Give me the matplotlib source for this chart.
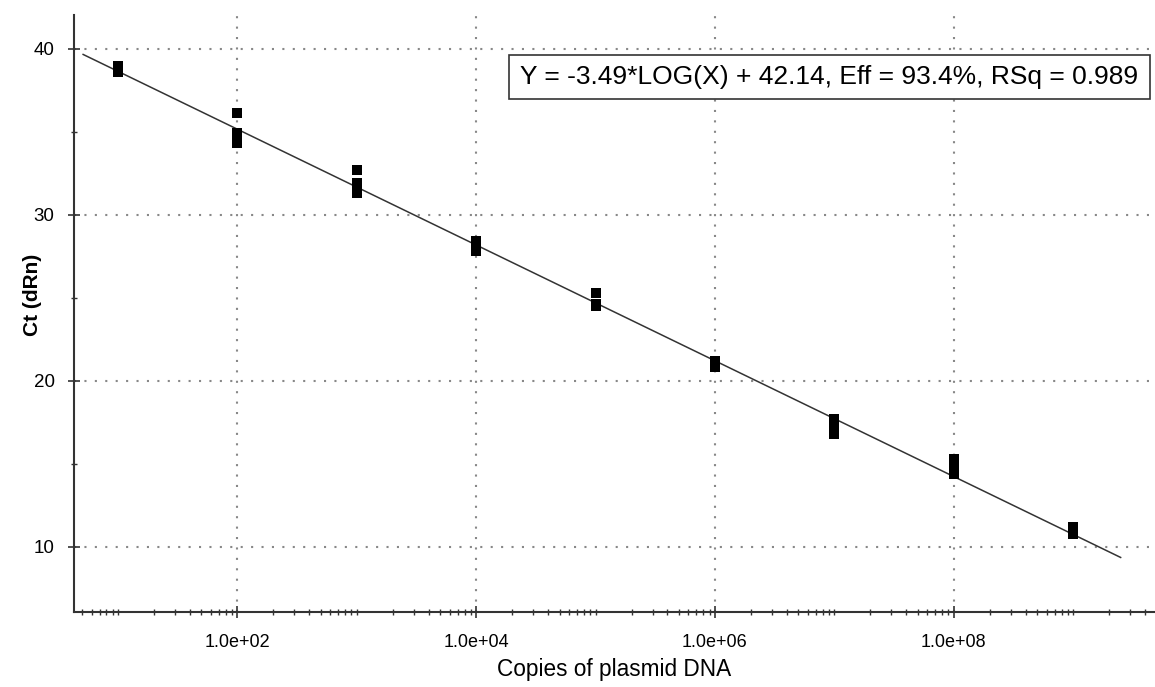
import numpy as np
import matplotlib
matplotlib.use('Agg')
import matplotlib.pyplot as plt
from matplotlib.patches import Rectangle
from matplotlib.ticker import LogLocator, FixedLocator, NullFormatter

plt.rcParams['font.family'] = ['Liberation Sans', 'DejaVu Sans']

# standard curve data
copies = [1e1, 1e2, 1e3, 1e4, 1e5, 1e6, 1e7, 1e8, 1e9]
ct_reps = [
    [39.0, 38.8, 38.6],
    [36.15, 34.95, 34.35],
    [32.7, 31.9, 31.3],
    [28.4, 28.1, 27.8],
    [25.3, 24.6, 24.5],
    [21.2, 20.9, 20.8],
    [17.7, 17.1, 16.8],
    [15.3, 14.8, 14.35],
    [11.2, 10.9, 10.75],
]
slope = -3.49
intercept = 42.14
fit_range = [5.1, 2.5e9]
fit_label = "Y = -3.49*LOG(X) + 42.14, Eff = 93.4%, RSq = 0.989"

x_ticks = [1e2, 1e4, 1e6, 1e8]
x_ticklabels = ["1.0e+02", "1.0e+04", "1.0e+06", "1.0e+08"]
y_ticks = [10, 20, 30, 40]

fig = plt.figure(figsize=(11.55, 6.87), dpi=100)
ax = fig.add_axes([0.0641, 0.1096, 0.9359, 0.8686])

xs = [c for c, reps in zip(copies, ct_reps) for _ in reps]
ys = [v for reps in ct_reps for v in reps]
ax.scatter(xs, ys, marker='s', s=6.5**2, color='black', linewidths=0, zorder=3)

fx = np.logspace(np.log10(fit_range[0]), np.log10(fit_range[1]), 50)
ax.plot(fx, slope * np.log10(fx) + intercept, color='#333333', lw=1.1, zorder=2)

ax.set_xscale('log')
ax.set_xlim(4.28, 4.85e9)
ax.set_ylim(6.07, 42.05)

ax.xaxis.set_major_locator(FixedLocator(x_ticks))
ax.set_xticklabels(x_ticklabels)
ax.xaxis.set_minor_locator(LogLocator(base=10, subs=np.arange(1, 10), numticks=30))
ax.xaxis.set_minor_formatter(NullFormatter())
ax.set_yticks(y_ticks)
ax.yaxis.set_minor_locator(FixedLocator([15, 25, 35]))

ax.grid(True, which='major', color='#888888', linestyle=(0, (1, 4)), lw=1.5)

for s in ['top', 'right']:
    ax.spines[s].set_visible(False)
for s in ['left', 'bottom']:
    ax.spines[s].set_linewidth(1.5)
    ax.spines[s].set_color('#333333')

ax.tick_params(axis='both', which='major', direction='inout', length=8, width=1.2, color='#333333')
ax.tick_params(axis='both', which='minor', direction='inout', length=5, width=1.0, color='#333333')
ax.tick_params(axis='x', which='major', labelsize=13, pad=12)
ax.tick_params(axis='y', which='major', labelsize=13.5, pad=10)

ax.set_xlabel("Copies of plasmid DNA", fontsize=16.3, labelpad=5)
ax.set_ylabel("Ct (dRn)", fontsize=15, fontweight='bold')
ax.yaxis.set_label_coords(-0.0296, 0.531)

# fit equation box
bx0, bx1, by0, by1 = 0.4024, 0.9954, 0.8592, 0.933
ax.add_patch(Rectangle((bx0, by0), bx1 - bx0, by1 - by0, transform=ax.transAxes,
                       fc='white', ec='#333333', lw=1.2, zorder=5, clip_on=False))
ax.text((bx0 + bx1) / 2, (by0 + by1) / 2, fit_label, transform=ax.transAxes,
        fontsize=19, ha='center', va='center', zorder=6)

fig.savefig('out.png', dpi=100)
